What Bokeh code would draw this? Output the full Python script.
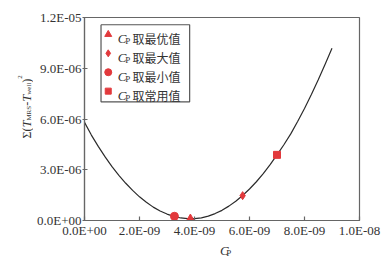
import math
from bokeh.plotting import figure
from bokeh.layouts import row, column
from bokeh.models import Range1d, FixedTicker, Label
from bokeh.embed import file_html
from bokeh.resources import INLINE

# ---------------- data ----------------
CP_CURVE = [0.0, 0.25, 0.5, 0.75, 1.0, 1.25, 1.5, 1.75, 2.0, 2.25, 2.5, 2.75, 3.0, 3.25,
            3.5, 3.75, 4.0, 4.25, 4.5, 4.75, 5.0, 5.25, 5.5, 5.75, 6.0, 6.25, 6.5, 6.75,
            7.0, 7.25, 7.5, 7.75, 8.0, 8.25, 8.5, 8.75, 9.0]  # C_P, x 1e-9
SSE_CURVE = [5.8, 5.05, 4.38, 3.76, 3.18, 2.67, 2.2, 1.78, 1.4, 1.08, 0.79, 0.56, 0.38, 0.24,
             0.15, 0.11, 0.11, 0.16, 0.26, 0.41, 0.6, 0.85, 1.14, 1.48, 1.86, 2.29, 2.77, 3.3,
             3.88, 4.48, 5.12, 5.85, 6.62, 7.45, 8.32, 9.24, 10.18]  # x 1e-6

SERIES_NAMES = ["取最优值", "取最大值", "取最小值", "取常用值"]
SERIES_CP = [3.85, 5.75, 3.27, 7.0]       # x 1e-9
SERIES_SSE = [0.11, 1.47, 0.25, 3.88]     # x 1e-6
SERIES_MARKERS = ["triangle", "diamond", "circle", "square"]
SERIES_SIZES = [8, 8, 8, 7]

X_TICKS = [0.0, 2e-9, 4e-9, 6e-9, 8e-9, 1e-8]
X_LABELS = ["0.0E+00", "2.0E-09", "4.0E-09", "6.0E-09", "8.0E-09", "1.0E-08"]
Y_TICKS = [0.0, 3e-6, 6e-6, 9e-6, 1.2e-5]
Y_LABELS = ["0.0E+00", "3.0E-06", "6.0E-06", "9.0E-06", "1.2E-05"]

XMAX = 1e-8
YMAX = 1.2e-5

# ---------------- layout (page pixels) ----------------
W, H = 391, 258
FL, FR, FT, FB = 81, 359, 17, 221   # main frame edges on the page
YT_W = 33                           # strip holding the y-axis title
XT_H = 18                           # strip holding the x-axis title

RED = "#e2393c"
TXT = "#333333"
AX = "#666666"
SERIF = "Liberation Serif"
CJK = "Noto Sans CJK SC"


def dx(px):
    return (px - FL) / (FR - FL) * XMAX


def dy(py):
    return (FB - py) / (FB - FT) * YMAX


# ---------------- main plot ----------------
p = figure(width=W - YT_W, height=H - XT_H, output_backend="svg", toolbar_location=None,
           x_range=Range1d(0, XMAX), y_range=Range1d(0, YMAX),
           min_border_left=FL - YT_W, min_border_right=W - FR,
           min_border_top=FT, min_border_bottom=H - XT_H - FB)
p.background_fill_color = "white"
p.border_fill_color = "white"
p.xgrid.visible = False
p.ygrid.visible = False
p.outline_line_color = AX
p.outline_line_width = 1.2

for ax, ticks, labels in ((p.xaxis[0], X_TICKS, X_LABELS), (p.yaxis[0], Y_TICKS, Y_LABELS)):
    ax.ticker = FixedTicker(ticks=ticks)
    ax.major_label_overrides = {t: l for t, l in zip(ticks, labels)}
    ax.minor_tick_line_color = None
    ax.axis_line_color = AX
    ax.axis_line_width = 1.2
    ax.major_tick_line_color = AX
    ax.major_tick_line_width = 1.2
    ax.major_label_text_font = SERIF
    ax.major_label_text_font_size = "13px"
    ax.major_label_text_color = TXT

p.xaxis.major_tick_in = 4
p.xaxis.major_tick_out = 0
p.xaxis.major_label_standoff = 2
p.yaxis.major_tick_in = 3
p.yaxis.major_tick_out = 2
p.yaxis.major_label_standoff = 1

# legend frame
LB = (97.7, 187.3, 24.3, 101.7)  # left, right, top, bottom (page px)
p.line([dx(LB[0]), dx(LB[1]), dx(LB[1]), dx(LB[0]), dx(LB[0])],
       [dy(LB[2]), dy(LB[2]), dy(LB[3]), dy(LB[3]), dy(LB[2])],
       line_color="#555555", line_width=1.2)

# curve
p.line([c * 1e-9 for c in CP_CURVE], [s * 1e-6 for s in SSE_CURVE],
       line_color="#2b2b2b", line_width=1.2)

# data points + legend keys
ROWS = [34, 53, 72, 91]
for cp, sse, mk, sz, rw in zip(SERIES_CP, SERIES_SSE, SERIES_MARKERS, SERIES_SIZES, ROWS):
    p.scatter([cp * 1e-9], [sse * 1e-6], marker=mk, size=sz,
              fill_color=RED, line_color=RED)
    p.scatter([dx(105)], [dy(rw)], marker=mk, size=sz - 1,
              fill_color=RED, line_color=RED)


def lab(fig, x, y, text, font=SERIF, size=12, style="normal", angle=0.0):
    fig.add_layout(Label(x=x, y=y, text=text, text_font=font,
                         text_font_size=f"{size}px", text_font_style=style,
                         text_color=TXT, angle=angle, text_align="left",
                         text_baseline="alphabetic"))


for rw, name in zip(ROWS, SERIES_NAMES):
    lab(p, dx(114.5), dy(rw + 4.5), "C", size=13, style="italic")
    lab(p, dx(122.3), dy(rw + 7), "P", size=9)
    lab(p, dx(129.5), dy(rw + 4.5), name, font=CJK, size=12)


def strip(w, h, x0, y0):
    """A bare figure whose data coordinates are page pixels."""
    f = figure(width=w, height=h, output_backend="svg", toolbar_location=None,
               x_range=Range1d(x0, x0 + w), y_range=Range1d(y0 + h, y0),
               x_axis_type=None, y_axis_type=None, min_border=0)
    f.min_border_left = f.min_border_right = f.min_border_top = f.min_border_bottom = 0
    f.outline_line_color = None
    f.grid.visible = False
    f.background_fill_color = "white"
    f.border_fill_color = "white"
    return f


# y axis title strip (page x 0..YT_W)
yt = strip(YT_W, H, 0, 0)
ANG = math.pi / 2
MAIN, SUB = 12, 7
base_x, sub_x, sup_x = 26.0, 28.8, 19.8
pieces = [
    ("Σ(", MAIN, "normal", base_x, 0.93),
    ("T", MAIN, "italic", base_x, 0.56),
    ("MRS", SUB, "normal", sub_x, 2.11),
    ("-", MAIN, "normal", base_x, 0.36),
    ("T", MAIN, "italic", base_x, 0.56),
    ("well", SUB, "normal", sub_x, 1.72),
    (")", MAIN, "normal", base_x, 0.333),
    ("2", SUB, "normal", sup_x, 0.5),
]
ypos = 138.0
for text, size, style, bx, wem in pieces:
    lab(yt, bx, ypos, text, size=size, style=style, angle=ANG)
    ypos -= size * wem

# x axis title strip (page y H-XT_H..H)
xt = strip(W - YT_W, XT_H, YT_W, H - XT_H)
lab(xt, 209.5, 250, "C", size=13, style="italic")
lab(xt, 217.5, 252, "P", size=9)

layout = row(yt, column(p, xt, spacing=0), spacing=0)

open("out.html", "w").write(file_html(layout, INLINE))
